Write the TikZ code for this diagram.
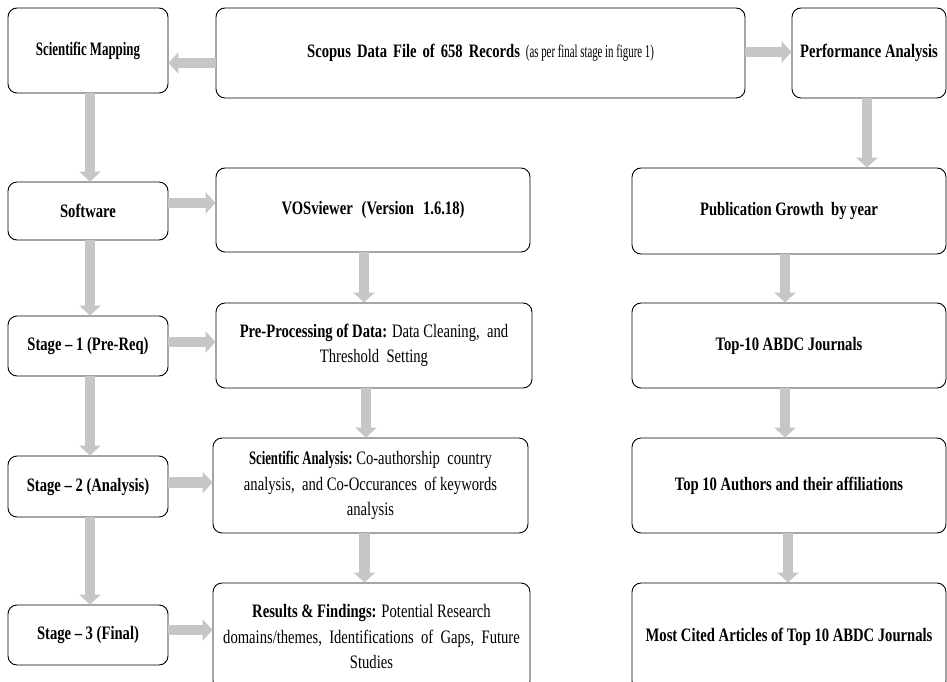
\documentclass[tikz,border=0pt]{standalone}
\usepackage{fontspec}
\setmainfont{Liberation Serif}[FakeStretch=0.77]
\usetikzlibrary{arrows.meta}

\begin{document}
\begin{tikzpicture}[x=1pt,y=-1pt]
      \useasboundingbox (0,0) rectangle (947,682);
      \tikzstyle{every node}=[draw, rounded corners=9pt, line width=0.9pt, align=center, inner sep=2pt, font=\fontsize{19}{25.5}\selectfont\bfseries]
      \tikzstyle{flow}=[line width=10.5pt, draw=gray!45, -{Triangle[width=21pt,length=10pt]}]
      \node[minimum width=160pt, minimum height=85pt] (n1) at (88,50.5) {\scalebox{0.88}[1]{Scientific Mapping}};
      \node[minimum width=529pt, minimum height=90pt] (n2) at (480.5,53) {\spaceskip=6pt Scopus Data File of 658 Records {\fontsize{18}{21}\selectfont\mdseries\spaceskip=0pt\scalebox{0.78}[1]{(as per final stage in figure 1)}}};
      \node[minimum width=154pt, minimum height=90pt] (n3) at (869,53)   {Performance Analysis};
      \node[minimum width=160pt, minimum height=58pt] (n4) at (88,211)   {Software};
      \node[minimum width=314pt, minimum height=84pt] (n5) at (373,210)  {\spaceskip=9pt VOSviewer (Version 1.6.18)};
      \node[minimum width=314pt, minimum height=86pt] (n6) at (789,211)  {Publication Growth\ \ by year};
      \node[minimum width=160pt, minimum height=60pt] (n7) at (88,346)   {Stage -- 1 (Pre-Req)};
      \node[minimum width=316pt, minimum height=85pt] (n8) at (374,345.5) {Pre-Processing of Data: \mdseries Data Cleaning,\ \ and\\\mdseries Threshold\ \ Setting};
      \node[minimum width=314pt, minimum height=85pt] (n9) at (789,345.5) {Top-10 ABDC Journals};
      \node[minimum width=160pt, minimum height=61pt] (n10) at (88,486.5) {Stage -- 2 (Analysis)};
      \node[minimum width=315pt, minimum height=95pt] (n11) at (370.5,485.5) {\scalebox{0.87}[1]{Scientific Analysis:} \mdseries Co-authorship\ \ country\\\mdseries analysis,\ \ and Co-Occurances\ \ of keywords\\\mdseries analysis};
      \node[minimum width=314pt, minimum height=95pt] (n12) at (789,485.5) {Top 10 Authors and their affiliations};
      \node[minimum width=160pt, minimum height=60pt] (n13) at (88,635)   {Stage -- 3 (Final)};
      \node[minimum width=317pt, minimum height=107pt] (n14) at (371.5,636.5) {Results \& Findings: \mdseries Potential Research\\\mdseries domains/themes,\ \ Identifications\ \ of\ \ Gaps,\ \ Future\\\mdseries Studies};
      \node[minimum width=314pt, minimum height=107pt] (n15) at (789,636.5) {Most Cited Articles of Top 10 ABDC Journals};

      \draw[flow] ([yshift=-10pt]n2.west) -- ([yshift=-10pt]n2.west -| n1.east);
      \draw[flow] ([yshift=1pt]n2.east)   -- ([yshift=1pt]n2.east -| n3.west);
      \draw[flow] ([xshift=2pt]n1.south)  -- ([xshift=2pt]n1.south |- n4.north);
      \draw[flow] ([yshift=8pt]n4.east)   -- ([yshift=8pt]n4.east -| n5.west);
      \draw[flow] ([xshift=2pt]n4.south)  -- ([xshift=2pt]n4.south |- n7.north);
      \draw[flow] ([xshift=-9pt]n5.south) -- ([xshift=-9pt]n5.south |- n8.north);
      \draw[flow] ([yshift=4pt]n7.east)   -- ([yshift=4pt]n7.east -| n8.west);
      \draw[flow] ([xshift=2pt]n7.south)  -- ([xshift=2pt]n7.south |- n10.north);
      \draw[flow] ([xshift=-8pt]n8.south) -- ([xshift=-8pt]n8.south |- n11.north);
      \draw[flow] ([yshift=4pt]n10.east)  -- ([yshift=4pt]n10.east -| n11.west);
      \draw[flow] ([xshift=2pt]n10.south) -- ([xshift=2pt]n10.south |- n13.north);
      \draw[flow] ([xshift=-6pt]n11.south) -- ([xshift=-6pt]n11.south |- n14.north);
      \draw[flow] ([yshift=5pt]n13.east)  -- ([yshift=5pt]n13.east -| n14.west);
      \draw[flow] ([xshift=-2pt]n3.south) -- ([xshift=-2pt]n3.south |- n6.north);
      \draw[flow] ([xshift=-4pt]n6.south) -- ([xshift=-4pt]n6.south |- n9.north);
      \draw[flow] ([xshift=-4pt]n9.south) -- ([xshift=-4pt]n9.south |- n12.north);
      \draw[flow] ([xshift=-1pt]n12.south) -- ([xshift=-1pt]n12.south |- n15.north);
\end{tikzpicture}
\end{document}
